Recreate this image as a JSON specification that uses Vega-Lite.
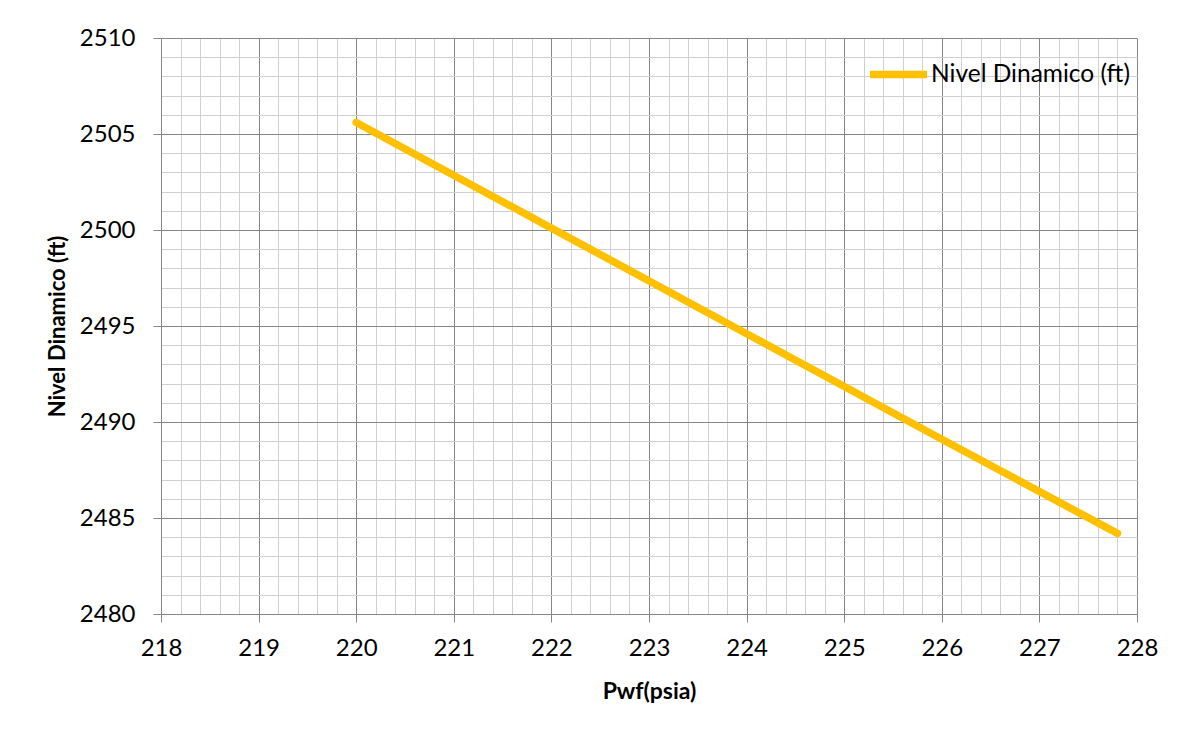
{
  "$schema": "https://vega.github.io/schema/vega-lite/v6.json",
  "width": 976,
  "height": 576,
  "autosize": {"type": "none"},
  "padding": {"left": 161, "top": 38, "right": 60, "bottom": 120},
  "background": "white",
  "config": {
    "font": "Lato",
    "view": {"stroke": null}
  },
  "data": {
    "values": [
      {"pwf": 220.0, "nivel": 2505.6, "series": "Nivel Dinamico (ft)"},
      {"pwf": 222.0, "nivel": 2500.1, "series": "Nivel Dinamico (ft)"},
      {"pwf": 224.0, "nivel": 2494.6, "series": "Nivel Dinamico (ft)"},
      {"pwf": 226.0, "nivel": 2489.1, "series": "Nivel Dinamico (ft)"},
      {"pwf": 227.8, "nivel": 2484.2, "series": "Nivel Dinamico (ft)"}
    ]
  },
  "mark": {"type": "line", "strokeWidth": 7.5, "strokeCap": "round", "strokeJoin": "round"},
  "encoding": {
    "x": {
      "field": "pwf",
      "type": "quantitative",
      "scale": {"domain": [218, 228], "nice": false, "zero": false},
      "axis": {
        "title": "Pwf(psia)",
        "titleFont": "Lato",
        "titleFontSize": 23,
        "titleFontWeight": "bold",
        "titleColor": "#000000",
        "titlePadding": 20,
        "values": [218, 218.2, 218.4, 218.6, 218.8, 219, 219.2, 219.4, 219.6, 219.8, 220, 220.2, 220.4, 220.6, 220.8, 221, 221.2, 221.4, 221.6, 221.8, 222, 222.2, 222.4, 222.6, 222.8, 223, 223.2, 223.4, 223.6, 223.8, 224, 224.2, 224.4, 224.6, 224.8, 225, 225.2, 225.4, 225.6, 225.8, 226, 226.2, 226.4, 226.6, 226.8, 227, 227.2, 227.4, 227.6, 227.8, 228],
        "labelExpr": "abs(datum.value - round(datum.value)) < 0.001 ? format(datum.value, 'd') : ''",
        "labelFontSize": 24,
        "labelColor": "#000000",
        "labelPadding": 14,
        "labelFlush": false,
        "labelOverlap": false,
        "tickSize": 8,
        "tickColor": "#868686",
        "tickOpacity": {"condition": {"test": "abs(datum.value - round(datum.value)) < 0.001", "value": 1}, "value": 0},
        "domainColor": "#868686",
        "domainWidth": 1,
        "grid": true,
        "gridColor": {"condition": {"test": "abs(datum.value - round(datum.value)) < 0.001", "value": "#868686"}, "value": "#d0d0d0"},
        "gridWidth": 1,
        "gridOpacity": 1
      }
    },
    "y": {
      "field": "nivel",
      "type": "quantitative",
      "scale": {"domain": [2480, 2510], "nice": false, "zero": false},
      "axis": {
        "title": "Nivel Dinamico (ft)",
        "titleFont": "Lato",
        "titleFontSize": 22,
        "titleFontWeight": "bold",
        "titleColor": "#000000",
        "titlePadding": 10,
        "values": [2480, 2481, 2482, 2483, 2484, 2485, 2486, 2487, 2488, 2489, 2490, 2491, 2492, 2493, 2494, 2495, 2496, 2497, 2498, 2499, 2500, 2501, 2502, 2503, 2504, 2505, 2506, 2507, 2508, 2509, 2510],
        "labelExpr": "datum.value % 5 === 0 ? format(datum.value, 'd') : ''",
        "labelFontSize": 24,
        "labelColor": "#000000",
        "labelPadding": 18,
        "labelOverlap": false,
        "tickSize": 8,
        "tickColor": "#868686",
        "tickOpacity": {"condition": {"test": "datum.value % 5 === 0", "value": 1}, "value": 0},
        "domainColor": "#868686",
        "domainWidth": 1,
        "grid": true,
        "gridColor": {"condition": {"test": "datum.value % 5 === 0", "value": "#868686"}, "value": "#d0d0d0"},
        "gridWidth": 1,
        "gridOpacity": 1
      }
    },
    "color": {
      "field": "series",
      "type": "nominal",
      "scale": {"range": ["#FFC000"]},
      "legend": {
        "title": null,
        "orient": "none",
        "legendX": 705,
        "legendY": 4,
        "symbolType": "stroke",
        "symbolSize": 3249,
        "symbolStrokeWidth": 7.5,
        "labelFontSize": 24.5,
        "labelColor": "#000000",
        "labelOffset": 0,
        "labelLimit": 400,
        "padding": 0
      }
    }
  }
}
